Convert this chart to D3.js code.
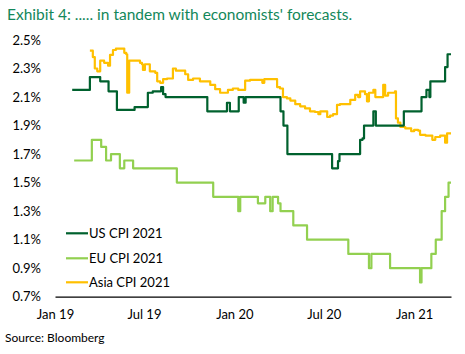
<!DOCTYPE html>
<html>
<head>
<meta charset="utf-8">
<script src="https://cdn.jsdelivr.net/npm/d3@7"></script>
<style>
  body { margin: 0; background: #fff; }
  svg { display: block; font-family: Lato, "Open Sans", sans-serif; }
</style>
</head>
<body>
<svg id="chart" width="465" height="354"></svg>
<script>
// values, [date, %] pairs, drawn as steps
const usCpi = [
  ["2019-02-05", 2.15], ["2019-03-13", 2.24], ["2019-04-03", 2.21], ["2019-04-20", 2.14],
  ["2019-05-07", 2.01], ["2019-06-12", 2.03], ["2019-07-09", 2.13], ["2019-07-19", 2.14],
  ["2019-08-05", 2.17], ["2019-08-09", 2.12], ["2019-08-14", 2.10], ["2019-11-07", 2.00],
  ["2019-12-17", 2.06], ["2019-12-23", 2.00], ["2020-01-10", 2.10], ["2020-01-20", 2.06],
  ["2020-01-24", 2.10], ["2020-04-04", 2.00], ["2020-04-10", 1.90], ["2020-04-18", 1.70],
  ["2020-07-18", 1.60], ["2020-07-30", 1.65], ["2020-08-02", 1.70], ["2020-09-13", 1.80],
  ["2020-09-18", 1.81], ["2020-09-21", 1.90], ["2020-10-10", 2.00], ["2020-10-15", 1.90],
  ["2020-12-11", 2.00], ["2021-01-16", 2.10], ["2021-01-26", 2.15], ["2021-02-01", 2.10],
  ["2021-02-03", 2.21], ["2021-03-05", 2.31], ["2021-03-10", 2.40], ["2021-03-17", 2.40]
];

const euCpi = [
  ["2019-02-09", 1.655], ["2019-03-17", 1.80], ["2019-04-05", 1.75], ["2019-04-15", 1.655],
  ["2019-04-25", 1.70], ["2019-05-13", 1.60], ["2019-05-22", 1.655], ["2019-06-09", 1.60],
  ["2019-09-06", 1.50], ["2019-11-19", 1.40], ["2020-01-09", 1.30], ["2020-01-13", 1.40],
  ["2020-02-18", 1.355], ["2020-03-04", 1.40], ["2020-03-14", 1.30], ["2020-03-19", 1.40],
  ["2020-03-30", 1.355], ["2020-04-04", 1.30], ["2020-04-30", 1.20], ["2020-05-28", 1.10],
  ["2020-08-20", 1.00], ["2020-10-01", 0.90], ["2020-10-06", 1.00], ["2020-11-13", 0.90],
  ["2021-01-13", 0.80], ["2021-01-16", 0.90], ["2021-02-05", 1.00], ["2021-02-14", 1.10],
  ["2021-02-26", 1.30], ["2021-03-05", 1.40], ["2021-03-12", 1.50], ["2021-03-17", 1.50]
];

const asiaCpi = [
  ["2019-03-13", 2.425], ["2019-03-19", 2.38], ["2019-03-23", 2.30], ["2019-03-28", 2.28],
  ["2019-04-03", 2.355], ["2019-04-11", 2.34], ["2019-04-19", 2.32], ["2019-04-23", 2.395],
  ["2019-04-29", 2.43], ["2019-05-05", 2.44], ["2019-05-22", 2.41], ["2019-05-26", 2.40],
  ["2019-05-28", 2.13], ["2019-06-01", 2.355], ["2019-06-23", 2.34], ["2019-06-27", 2.33],
  ["2019-06-29", 2.29], ["2019-07-03", 2.33], ["2019-07-13", 2.28], ["2019-07-24", 2.27],
  ["2019-07-28", 2.21], ["2019-08-03", 2.20], ["2019-08-09", 2.225], ["2019-08-17", 2.23],
  ["2019-08-29", 2.30], ["2019-09-04", 2.285], ["2019-09-23", 2.26], ["2019-09-29", 2.22],
  ["2019-10-09", 2.23], ["2019-10-23", 2.21], ["2019-11-13", 2.185], ["2019-11-23", 2.155],
  ["2019-12-03", 2.13], ["2019-12-19", 2.15], ["2019-12-29", 2.16], ["2020-01-09", 2.15],
  ["2020-01-23", 2.215], ["2020-02-02", 2.22], ["2020-02-27", 2.20], ["2020-03-02", 2.225],
  ["2020-03-28", 2.17], ["2020-04-03", 2.16], ["2020-04-09", 2.10], ["2020-04-17", 2.09],
  ["2020-04-24", 2.075], ["2020-05-04", 2.05], ["2020-05-14", 2.035], ["2020-05-24", 2.02],
  ["2020-06-03", 2.00], ["2020-06-13", 1.995], ["2020-06-20", 1.98], ["2020-06-24", 2.00],
  ["2020-07-08", 1.96], ["2020-07-14", 1.97], ["2020-07-20", 1.98], ["2020-07-28", 2.045],
  ["2020-08-03", 2.05], ["2020-08-24", 2.08], ["2020-09-03", 2.115], ["2020-09-09", 2.10],
  ["2020-09-13", 2.14], ["2020-09-23", 2.12], ["2020-09-27", 2.07], ["2020-10-01", 2.13],
  ["2020-10-10", 2.15], ["2020-10-14", 2.10], ["2020-10-30", 2.185], ["2020-11-03", 2.11],
  ["2020-11-09", 2.13], ["2020-11-23", 2.14], ["2020-11-25", 1.95], ["2020-11-29", 1.92],
  ["2020-12-04", 1.89], ["2020-12-14", 1.88], ["2020-12-26", 1.86], ["2021-01-01", 1.87],
  ["2021-01-09", 1.865], ["2021-01-13", 1.835], ["2021-01-24", 1.83], ["2021-02-07", 1.80],
  ["2021-02-13", 1.82], ["2021-02-23", 1.83], ["2021-03-05", 1.78], ["2021-03-09", 1.845],
  ["2021-03-17", 1.845]
];

const yTicks = [0.7, 0.9, 1.1, 1.3, 1.5, 1.7, 1.9, 2.1, 2.3, 2.5];
const xTickDates = ["2019-01-01", "2019-07-01", "2020-01-01", "2020-07-01", "2021-01-01"];
const xTickLabels = ["Jan 19", "Jul 19", "Jan 20", "Jul 20", "Jan 21"];

const seriesNames = ["US CPI 2021", "EU CPI 2021", "Asia CPI 2021"];
const seriesColors = ["#00612e", "#92d050", "#ffc000"];

/***
 * Canvas setup
 */
const svg = d3.select("#chart");
const parse = d3.utcParse("%Y-%m-%d");

const x = d3.scaleUtc()
  .domain([parse("2019-01-01"), parse("2021-03-17")])
  .range([55, 451]);

const y = d3.scaleLinear()
  .domain([0.7, 2.5])
  .range([296.7, 40]);

// title
svg.append("text")
  .attr("x", 7)
  .attr("y", 20)
  .attr("fill", "#13875a")
  .style("font-size", "15.5px")
  .text("Exhibit 4: ..... in tandem with economists' forecasts.");

// y axis labels, no line
const yAxis = svg.append("g")
  .attr("transform", "translate(41,0)")
  .call(d3.axisLeft(y).tickValues(yTicks).tickSize(0).tickPadding(0)
    .tickFormat(d => d.toFixed(1) + "%"));
yAxis.select(".domain").remove();
yAxis.selectAll("text")
  .style("font-size", "13px")
  .style("font-family", "Lato, 'Open Sans', sans-serif")
  .attr("fill", "#000");

// x axis
const xAxis = svg.append("g")
  .attr("transform", "translate(0," + y(0.7) + ")")
  .call(d3.axisBottom(x)
    .tickValues(xTickDates.map(parse))
    .tickSize(0)
    .tickPadding(13)
    .tickFormat((d, i) => xTickLabels[i]));
xAxis.select(".domain").attr("stroke", "#000").attr("stroke-width", 1.2);
xAxis.selectAll("text")
  .style("font-size", "13px")
  .style("font-family", "Lato, 'Open Sans', sans-serif")
  .attr("fill", "#000");

/***
 * Lines
 */
const line = d3.line()
  .x(d => x(parse(d[0])))
  .y(d => y(d[1]))
  .curve(d3.curveStepAfter);

const allSeries = [usCpi, euCpi, asiaCpi];
// draw Asia first? reference shows US on top of Asia where they cross
[2, 1, 0].forEach(i => {
  svg.append("path")
    .datum(allSeries[i])
    .attr("d", line)
    .attr("fill", "none")
    .attr("stroke", seriesColors[i])
    .attr("stroke-width", 2.2)
    .attr("stroke-linejoin", "round");
});

/***
 * Legend
 */
const legend = svg.append("g");
const legendY = [233.3, 258.3, 282.3];
seriesNames.forEach((name, i) => {
  legend.append("line")
    .attr("x1", 66).attr("x2", 88)
    .attr("y1", legendY[i]).attr("y2", legendY[i])
    .attr("stroke", seriesColors[i])
    .attr("stroke-width", 2.2);
  legend.append("text")
    .attr("x", 89)
    .attr("y", legendY[i])
    .attr("dy", "0.35em")
    .style("font-size", "13px")
    .text(name);
});

// source
svg.append("text")
  .attr("x", 5)
  .attr("y", 342)
  .style("font-size", "12px")
  .text("Source: Bloomberg");
</script>
</body>
</html>
